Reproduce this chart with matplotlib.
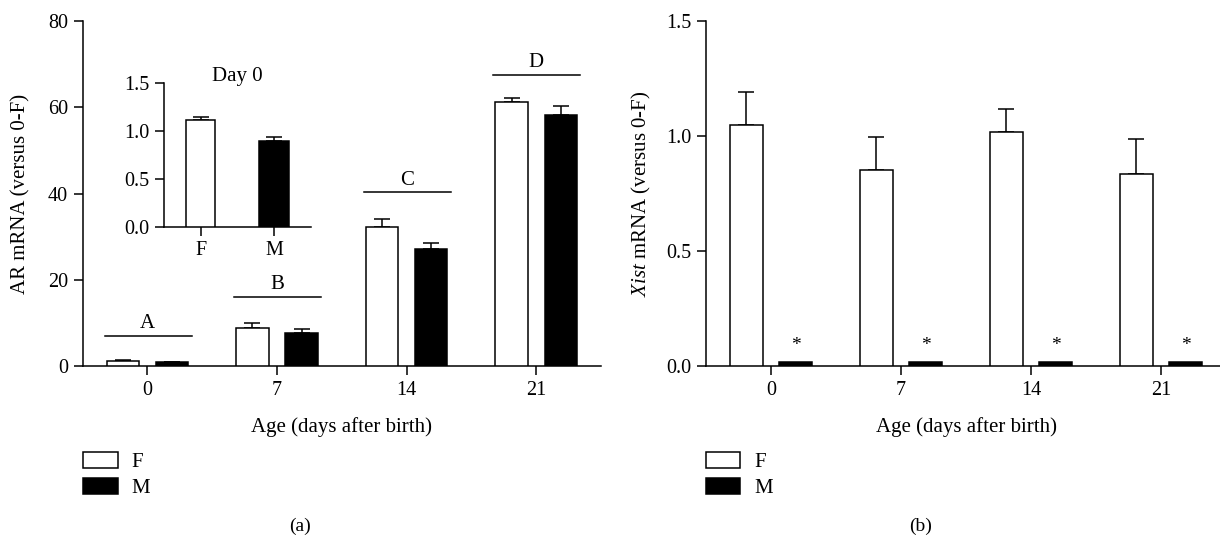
import numpy as np
import matplotlib
matplotlib.use('Agg')
import matplotlib.pyplot as plt
from matplotlib.patches import Patch

plt.rcParams['font.family'] = ['Liberation Serif', 'DejaVu Serif']
plt.rcParams['mathtext.fontset'] = 'custom'
plt.rcParams['mathtext.it'] = 'Liberation Serif:italic'
plt.rcParams['mathtext.rm'] = 'Liberation Serif'
plt.rcParams['font.size'] = 14.5
plt.rcParams['axes.linewidth'] = 1.1

# data
ages = ['0', '7', '14', '21']
ar_f = [1.1, 8.8, 32.3, 61.3]
ar_f_err = [0.2, 1.2, 1.9, 1.0]
ar_m = [0.9, 7.6, 27.1, 58.2]
ar_m_err = [0.1, 1.1, 1.5, 2.1]
ar_groups = ['A', 'B', 'C', 'D']
ar_group_line = [7.0, 16.1, 40.3, 67.6]

day0_labels = ['F', 'M']
day0_vals = [1.11, 0.89]
day0_err = [0.03, 0.04]

xist_f = [1.05, 0.853, 1.017, 0.837]
xist_f_err = [0.144, 0.142, 0.103, 0.152]
xist_m = [0.017, 0.017, 0.017, 0.017]

W, H = 1220, 538
fig = plt.figure(figsize=(W / 100, H / 100), dpi=100)

ax1 = fig.add_axes([82.7 / W, 1 - 366 / H, 518.3 / W, 344.7 / H])
ax2 = fig.add_axes([706 / W, 1 - 366 / H, 520 / W, 344.7 / H])
axin = fig.add_axes([164 / W, 1 - 226.7 / H, 146.6 / W, 144 / H])

x = np.arange(len(ages))
bw = 0.25
off = 0.19
fs = 15
cap = 6


def style(ax):
    for s in ['top', 'right']:
        ax.spines[s].set_visible(False)
    ax.tick_params(direction='out', length=6.5, width=1.1, pad=4, labelsize=14.5)


def bars(ax, f, m, ferr, merr=None):
    ax.bar(x - off, f, bw, color='white', edgecolor='black', linewidth=1.1, zorder=3)
    ax.bar(x + off, m, bw, color='black', edgecolor='black', linewidth=1.1, zorder=3)
    ax.errorbar(x - off, f, yerr=[np.zeros(len(f)), ferr], fmt='none', ecolor='black',
                elinewidth=1.1, capsize=cap, capthick=1.1, zorder=2)
    if merr is not None:
        ax.errorbar(x + off, m, yerr=[np.zeros(len(m)), merr], fmt='none', ecolor='black',
                    elinewidth=1.1, capsize=cap, capthick=1.1, zorder=2)


# (a) AR
style(ax1)
bars(ax1, ar_f, ar_m, ar_f_err, ar_m_err)
for i, (g, h) in enumerate(zip(ar_groups, ar_group_line)):
    ax1.plot([i - 0.33, i + 0.34], [h, h], color='black', lw=1.1)
    ax1.text(i, h + 0.6, g, ha='center', va='bottom', fontsize=fs)
ax1.set_xlim(-0.5, 3.5)
ax1.set_ylim(0, 80)
ax1.set_yticks([0, 20, 40, 60, 80])
ax1.set_xticks(x)
ax1.set_xticklabels(ages)
ax1.set_ylabel('AR mRNA (versus 0-F)', fontsize=fs)
ax1.yaxis.set_label_coords(-0.12, 0.5)
ax1.yaxis.label.set_verticalalignment('center')
ax1.set_xlabel('Age (days after birth)', fontsize=fs)
ax1.xaxis.set_label_coords(0.5, -0.176)
ax1.xaxis.label.set_verticalalignment('center')

# inset day 0
style(axin)
xi = np.arange(len(day0_labels))
axin.bar(xi, day0_vals, 0.4, color=['white', 'black'], edgecolor='black', linewidth=1.1, zorder=3)
axin.errorbar(xi, day0_vals, yerr=[np.zeros(2), day0_err], fmt='none', ecolor='black',
              elinewidth=1.1, capsize=cap, capthick=1.1, zorder=2)
axin.set_xlim(-0.5, 1.5)
axin.set_ylim(0, 1.5)
axin.set_yticks([0, 0.5, 1.0, 1.5])
axin.set_yticklabels(['0.0', '0.5', '1.0', '1.5'])
axin.set_xticks(xi)
axin.set_xticklabels(day0_labels)
axin.text(0.5, 1.04, 'Day 0', transform=axin.transAxes, ha='center', va='center', fontsize=fs)

# (b) Xist
style(ax2)
bars(ax2, xist_f, xist_m, xist_f_err)
for i, m in enumerate(xist_m):
    ax2.text(i + off, m + 0.072, '*', ha='center', va='center', fontsize=14)
ax2.set_xlim(-0.5, 3.5)
ax2.set_ylim(0, 1.5)
ax2.set_yticks([0, 0.5, 1.0, 1.5])
ax2.set_yticklabels(['0.0', '0.5', '1.0', '1.5'])
ax2.set_xticks(x)
ax2.set_xticklabels(ages)
ax2.set_ylabel(r'$\mathit{Xist}$ mRNA (versus 0-F)', fontsize=fs)
ax2.yaxis.set_label_coords(-0.125, 0.5)
ax2.yaxis.label.set_verticalalignment('center')
ax2.set_xlabel('Age (days after birth)', fontsize=fs)
ax2.xaxis.set_label_coords(0.5, -0.176)
ax2.xaxis.label.set_verticalalignment('center')

handles = [Patch(facecolor='white', edgecolor='black', linewidth=1.1, label='F'),
           Patch(facecolor='black', edgecolor='black', linewidth=1.1, label='M')]
for lx in [83.3, 706]:
    fig.legend(handles=handles, loc='upper left', bbox_to_anchor=(lx / W, 1 - 452 / H),
               frameon=False, fontsize=fs, handlelength=1.65, handleheight=0.78,
               handletextpad=0.65, labelspacing=0.3, borderpad=0, borderaxespad=0)

fig.text(300 / W, 1 - 526.7 / H, '(a)', ha='center', va='center', fontsize=14)
fig.text(921 / W, 1 - 526.7 / H, '(b)', ha='center', va='center', fontsize=14)

fig.savefig('out.png', dpi=100)
